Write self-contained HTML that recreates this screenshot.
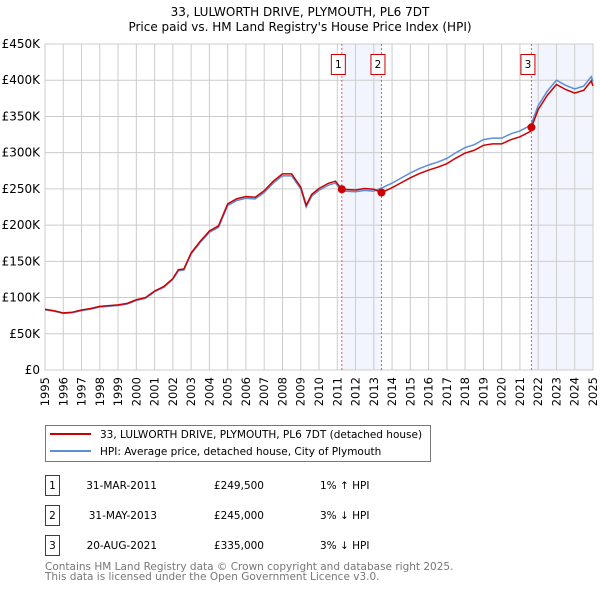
<!DOCTYPE html>
<html><head><meta charset="utf-8"><style>
body{margin:0;background:#fff;}
svg{display:block;font-family:"DejaVu Sans","Liberation Sans",sans-serif;}
</style></head><body>
<svg id="chart" width="600" height="590" viewBox="0 0 600 590">
<text x="300" y="16" text-anchor="middle" font-size="12">33, LULWORTH DRIVE, PLYMOUTH, PL6 7DT</text>
<text x="300" y="31" text-anchor="middle" font-size="12">Price paid vs. HM Land Registry's House Price Index (HPI)</text>
<g id="plot"></g>
<g>
<rect x="45.5" y="425.5" width="385" height="36" fill="#fff" stroke="#777"/>
<line x1="50" y1="434" x2="91" y2="434" stroke="#cc0000" stroke-width="2"/>
<text x="100" y="438" font-size="10.5">33, LULWORTH DRIVE, PLYMOUTH, PL6 7DT (detached house)</text>
<line x1="50" y1="451" x2="91" y2="451" stroke="#5b8fd6" stroke-width="2"/>
<text x="100" y="455" font-size="10.5">HPI: Average price, detached house, City of Plymouth</text>
</g>
<g font-size="10.5">
<rect x="45.5" y="475.5" width="14" height="20" fill="none" stroke="#cc0000"/><text x="52.5" y="489" text-anchor="middle">1</text>
<text x="157" y="489" text-anchor="end">31-MAR-2011</text><text x="264" y="489" text-anchor="end">£249,500</text><text x="320" y="489">1% ↑ HPI</text>
<rect x="45.5" y="505.5" width="14" height="20" fill="none" stroke="#cc0000"/><text x="52.5" y="519" text-anchor="middle">2</text>
<text x="157" y="519" text-anchor="end">31-MAY-2013</text><text x="264" y="519" text-anchor="end">£245,000</text><text x="320" y="519">3% ↓ HPI</text>
<rect x="45.5" y="535.5" width="14" height="20" fill="none" stroke="#cc0000"/><text x="52.5" y="549" text-anchor="middle">3</text>
<text x="157" y="549" text-anchor="end">20-AUG-2021</text><text x="264" y="549" text-anchor="end">£335,000</text><text x="320" y="549">3% ↓ HPI</text>
</g>
<text x="45" y="570" font-size="10.5" fill="#777">Contains HM Land Registry data © Crown copyright and database right 2025.</text>
<text x="45" y="580" font-size="10.5" fill="#777">This data is licensed under the Open Government Licence v3.0.</text>
</svg>
<script>
const hpiYears=[1995,1995.5,1996,1996.5,1997,1997.5,1998,1998.5,1999,1999.5,2000,2000.5,2001,2001.5,2002,2002.3,2002.6,2003,2003.5,2004,2004.5,2005,2005.5,2006,2006.5,2007,2007.5,2008,2008.5,2009,2009.3,2009.6,2010,2010.5,2010.9,2011.25,2012,2012.5,2013,2013.5,2014,2014.5,2015,2015.5,2016,2016.5,2017,2017.5,2018,2018.5,2019,2019.5,2020,2020.5,2021,2021.6,2022,2022.5,2023,2023.5,2024,2024.5,2024.9,2025];
const hpiValues=[83,81,78,79,82,84,87,88,89,91,96,99,108,114,125,137,138,160,176,190,197,227,234,237,236,245,258,268,268,250,225,240,248,255,258,247,246,248,247,252,258,265,272,278,283,287,292,300,307,311,318,320,320,326,330,338,365,385,400,393,388,392,405,398];
const saleDates=[2011.25,2013.42,2021.63];
const salePrices=[249.5,245,335];
const saleLabels=["1","2","3"];
const yTicks=[0,50,100,150,200,250,300,350,400,450];
const yTickLabels=["£0","£50K","£100K","£150K","£200K","£250K","£300K","£350K","£400K","£450K"];
const xTicks=[1995,1996,1997,1998,1999,2000,2001,2002,2003,2004,2005,2006,2007,2008,2009,2010,2011,2012,2013,2014,2015,2016,2017,2018,2019,2020,2021,2022,2023,2024,2025];

const X0=45,X1=593,Y0=370,Y1=44;
const xs=t=>X0+(t-1995)/30*(X1-X0);
const ys=v=>Y0-v/450*(Y0-Y1);
const NS="http://www.w3.org/2000/svg";
const g=document.getElementById('plot');
function mk(tag,attrs,parent){const e=document.createElementNS(NS,tag);for(const k in attrs)e.setAttribute(k,attrs[k]);(parent||g).appendChild(e);return e;}
function hpiAt(t){for(let i=1;i<hpiYears.length;i++){if(t<=hpiYears[i]){const f=(t-hpiYears[i-1])/(hpiYears[i]-hpiYears[i-1]);return hpiValues[i-1]+f*(hpiValues[i]-hpiValues[i-1]);}}return hpiValues[hpiValues.length-1];}

let s1=mk('rect',{x:xs(saleDates[0]),y:Y1,width:xs(saleDates[1])-xs(saleDates[0]),height:Y0-Y1,fill:'#f2f5fd'});


let s2=mk('rect',{x:xs(saleDates[2]),y:Y1,width:X1-xs(saleDates[2]),height:Y0-Y1,fill:'#f2f5fd'});


yTicks.forEach((v,i)=>{
  const l=mk('line',{x1:X0,x2:X1,y1:ys(v),y2:ys(v),stroke:'#cccccc'});
  
  
  const t=mk('text',{x:X0-5,y:ys(v)+4,'text-anchor':'end','font-size':'12'});
  
  
  t.textContent=yTickLabels[i];
});
xTicks.forEach(yr=>{
  const l=mk('line',{x1:xs(yr),x2:xs(yr),y1:Y1,y2:Y0,stroke:'#cccccc'});
  
  
  const t=mk('text',{x:0,y:0,'text-anchor':'end','font-size':'11.5',transform:`translate(${xs(yr)+4},${Y0+7}) rotate(-90)`});
  
  
  t.textContent=yr;
});
const bx=mk('rect',{x:X0,y:Y1,width:X1-X0,height:Y0-Y1,fill:'none',stroke:'#cccccc'});


saleDates.forEach((d,i)=>{
  const l=mk('line',{x1:xs(d),x2:xs(d),y1:Y1,y2:Y0,stroke:'#ee5555','stroke-dasharray':'2,2','stroke-width':'1'});
  
  
  const r=mk('rect',{x:xs(d)-10.5,y:54.5,width:14,height:20,fill:'#fff',stroke:'#cc0000'});
  
  
  const t=mk('text',{x:xs(d)-3.5,y:68,'text-anchor':'middle','font-size':'10.5'});
  
  
  t.textContent=saleLabels[i];
});
const hp=mk('polyline',{points:hpiYears.map((t,i)=>xs(t)+','+ys(hpiValues[i])).join(' '),fill:'none',stroke:'#5b8fd6','stroke-width':'1.5'});


const factors=saleDates.map((d,i)=>salePrices[i]/hpiAt(d));
function factorAt(t){let f=factors[0];for(let i=1;i<saleDates.length;i++)if(t>=saleDates[i])f=factors[i];return f;}
const pts=[];
const tt=hpiYears.concat(saleDates).sort((a,b)=>a-b);
tt.forEach(t=>pts.push(xs(t)+','+ys(hpiAt(t)*factorAt(t))));
const pl=mk('polyline',{points:pts.join(' '),fill:'none',stroke:'#cc0000','stroke-width':'1.5'});


saleDates.forEach((d,i)=>{
  const c=mk('circle',{cx:xs(d),cy:ys(salePrices[i]),r:4,fill:'#cc0000'});
  
  
});
</script>
</body></html>
